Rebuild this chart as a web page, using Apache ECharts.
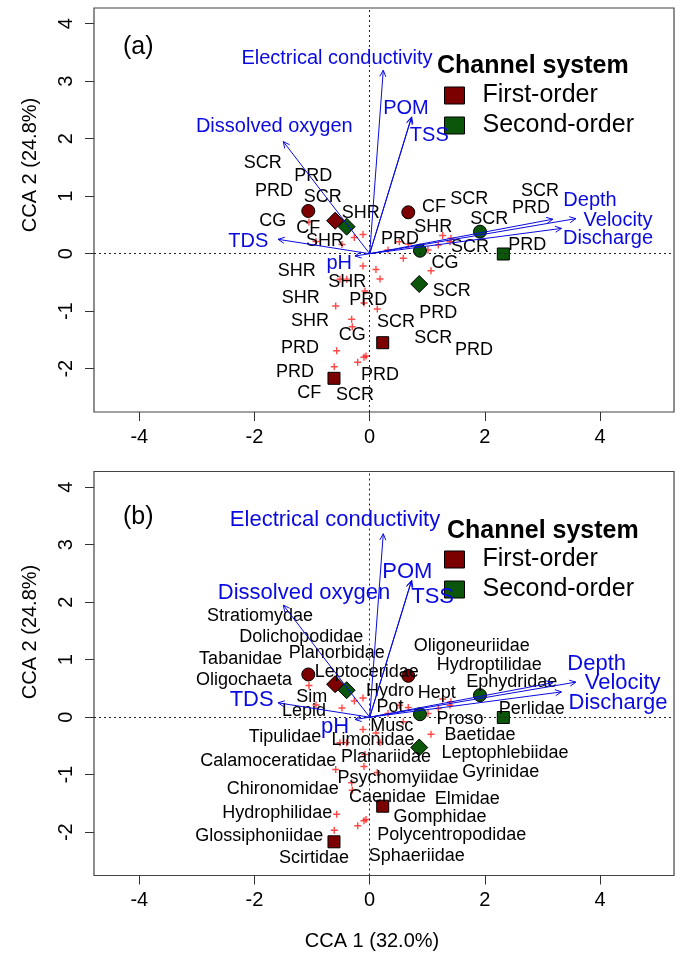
<!DOCTYPE html>
<html>
<head>
<meta charset="utf-8">
<script src="https://cdn.jsdelivr.net/npm/echarts@6/dist/echarts.min.js"></script>
<style>html,body{margin:0;padding:0;background:#fff}#c{width:680px;height:956px}</style>
</head>
<body>
<div id="c"></div>
<script>
// ---------- data ----------
const xTicks = [-4, -2, 0, 2, 4];
const yTicks = [-2, -1, 0, 1, 2, 3, 4];
const xTitle = 'CCA 1 (32.0%)';
const yTitle = 'CCA 2 (24.8%)';
const panelTags = ['(a)', '(b)'];
const legendTitle = 'Channel system';
const groupNames = ['First-order', 'Second-order'];

// environmental vectors (arrow tips) and label positions
const envNames = ['Electrical conductivity', 'POM', 'TSS', 'Dissolved oxygen', 'TDS', 'pH', 'Depth', 'Velocity', 'Discharge'];
const envTips = [[0.236, 3.19], [0.73, 2.38], [0.72, 2.36], [-1.50, 1.95], [-1.59, 0.25], [-0.255, -0.04], [3.18, 0.60], [3.58, 0.61], [3.33, 0.44]];
const envLabelA = [[-0.568, 3.398], [0.630, 2.529], [1.035, 2.064], [-1.656, 2.209], [-2.108, 0.209], [-0.528, -0.167], [3.825, 0.934], [4.311, 0.586], [4.137, 0.273]];
const envLabelB = [[-0.602, 3.430], [0.653, 2.530], [1.092, 2.096], [-1.141, 2.155], [-2.049, 0.299], [-0.601, -0.166], [3.941, 0.925], [4.392, 0.598], [4.311, 0.247]];

// site centroids
const redCircles = [[-1.066, 0.743], [0.67, 0.72]];
const redDiamonds = [[-0.60, 0.574]];
const redSquares = [[0.226, -1.548], [-0.62, -2.167]];
const greenCircles = [[0.873, 0.052], [1.915, 0.383]];
const greenDiamonds = [[-0.40, 0.47], [0.86, -0.527]];
const greenSquares = [[2.32, -0.005]];

// species scores (red crosses)
const speciesPts = [
  [-1.054, 0.551], [-0.932, 0.212], [-0.481, 0.160], [-0.267, 0.282], [-0.116, 0.334],
  [-0.116, -0.214], [0.109, -0.275], [0.179, -0.440], [0.318, 0.064], [0.583, -0.080],
  [1.064, -0.296], [1.267, 0.317], [1.411, 0.268], [1.191, 0.151], [1.394, 0.209],
  [-0.516, -0.445], [-0.082, -0.649], [0.132, -0.962], [-0.590, -0.910], [-0.313, -1.141],
  [-0.302, -1.270], [-0.573, -1.687], [-0.064, -1.779], [-0.099, -1.802], [-0.208, -1.889],
  [-0.615, -1.965], [0.514, 0.209], [0.670, 0.169], [1.012, 0.064], [-0.099, -0.857],
  [-0.399, -0.443]
];

// panel (a) feeding-group labels
const ffgNames = ['SCR', 'PRD', 'PRD', 'SCR', 'CG', 'CF', 'SHR', 'SHR', 'CF', 'SCR', 'SHR', 'PRD', 'SCR', 'SCR', 'PRD', 'SCR', 'PRD', 'CG', 'SCR', 'PRD', 'SCR', 'SCR', 'PRD', 'PRD', 'SCR', 'CF', 'PRD', 'PRD', 'CG', 'SHR', 'SHR', 'SHR', 'SHR', 'PRD'];
const ffgPos = [[-1.858, 1.572], [-0.979, 1.351], [-1.661, 1.090], [-0.816, 0.991], [-1.684, 0.569], [-1.066, 0.442], [-0.156, 0.713], [-0.776, 0.226], [1.116, 0.807], [1.729, 0.946], [1.104, 0.459], [0.526, 0.250], [2.076, 0.603], [2.957, 1.096], [2.800, 0.790], [1.741, 0.122], [2.736, 0.151], [1.307, -0.167], [1.424, -0.649], [1.191, -1.037], [0.457, -1.183], [1.104, -1.471], [1.811, -1.675], [0.179, -2.110], [-0.255, -2.457], [-1.049, -2.428], [-1.297, -2.052], [-1.210, -1.645], [-0.302, -1.414], [-1.036, -1.165], [-1.198, -0.776], [-1.267, -0.296], [-0.389, -0.487], [-0.024, -0.805]];

// panel (b) taxa labels
const taxaNames = ['Stratiomydae', 'Dolichopodidae', 'Tabanidae', 'Planorbidae', 'Oligochaeta', 'Leptoceridae', 'Sim', 'Lepid', 'Hydro', 'Pot', 'Musc', 'Hept', 'Oligoneuriidae', 'Hydroptilidae', 'Ephydridae', 'Perlidae', 'Proso', 'Baetidae', 'Leptophlebiidae', 'Gyrinidae', 'Elmidae', 'Gomphidae', 'Polycentropodidae', 'Sphaeriidae', 'Tipulidae', 'Calamoceratidae', 'Chironomidae', 'Hydrophilidae', 'Glossiphoniidae', 'Scirtidae', 'Limonidae', 'Planariidae', 'Psychomyiidae', 'Caenidae'];
const taxaPos = [[-1.905, 1.760], [-1.188, 1.390], [-2.240, 1.012], [-0.573, 1.122], [-2.182, 0.647], [-0.052, 0.791], [-1.007, 0.346], [-1.141, 0.113], [0.352, 0.461], [0.352, 0.183], [0.382, -0.153], [1.163, 0.426], [1.771, 1.238], [2.076, 0.908], [2.465, 0.617], [2.813, 0.137], [1.568, -0.037], [1.915, -0.310], [2.349, -0.628], [2.274, -0.948], [1.694, -1.428], [1.220, -1.741], [1.424, -2.049], [0.816, -2.414], [-1.470, -0.350], [-1.760, -0.762], [-1.510, -1.254], [-1.604, -1.661], [-1.917, -2.066], [-0.967, -2.454], [0.057, -0.397], [0.283, -0.692], [0.491, -1.057], [0.309, -1.383]];

// ---------- styling ----------
const FONT = "'Liberation Sans', Arial, Helvetica, sans-serif";
const RED = '#7d0000';
const GREEN = '#0b560b';
const BLUE = '#0a0ae0';
const CROSS = '#ff1a1a';
const XMIN = -4.786, XMAX = 5.283, YMIN = -2.753, YMAX = 4.273;
const plusPath = 'path://M4,0h2v4h4v2h-4v4h-2v-4h-4v-2h4z';

const chart = echarts.init(document.getElementById('c'), null, { renderer: 'canvas' });

function axesFor(i) {
  const x = {
    type: 'value', gridIndex: i, min: XMIN, max: XMAX,
    axisLine: { show: false, onZero: false },
    splitLine: { show: false },
    axisTick: { show: true, length: 9, customValues: xTicks, lineStyle: { color: '#333', width: 1 } },
    axisLabel: { show: true, customValues: xTicks, fontSize: 20, color: '#000', fontFamily: FONT, margin: 15 }
  };
  const y = {
    type: 'value', gridIndex: i, min: YMIN, max: YMAX,
    axisLine: { show: false, onZero: false },
    splitLine: { show: false },
    axisTick: { show: true, length: 9, customValues: yTicks, lineStyle: { color: '#333', width: 1 } },
    axisLabel: { show: true, customValues: yTicks, fontSize: 20, color: '#000', fontFamily: FONT, margin: 18, rotate: 90 }
  };
  return [x, y];
}
const ax0 = axesFor(0), ax1 = axesFor(1);

function siteSeries(i, name, data, symbol, size, color) {
  return {
    type: 'scatter', name: name, xAxisIndex: i, yAxisIndex: i, data: data,
    symbol: symbol, symbolSize: size, z: 4,
    itemStyle: { color: color, borderColor: '#000', borderWidth: 1, opacity: 1 },
    emphasis: { disabled: true }, silent: true
  };
}

function labelSeries(i, names, pos, size, color, z) {
  return {
    type: 'scatter', xAxisIndex: i, yAxisIndex: i,
    data: names.map((n, k) => ({ name: n, value: pos[k] })),
    symbol: 'circle', symbolSize: 0, z: z || 5,
    itemStyle: { color: 'rgba(0,0,0,0)' },
    label: {
      show: true, position: 'inside', formatter: '{b}', fontSize: size, color: color, fontFamily: FONT,
      textBorderWidth: 0, textBorderColor: 'transparent', textShadowBlur: 0, opacity: 1
    },
    emphasis: { disabled: true }, silent: true
  };
}

function arrowSeries(i) {
  return {
    type: 'custom', xAxisIndex: i, yAxisIndex: i, coordinateSystem: 'cartesian2d',
    data: envTips, z: 6, silent: true, clip: false,
    renderItem: function (params, api) {
      const p0 = api.coord([0, 0]);
      const p1 = api.coord([api.value(0), api.value(1)]);
      const ang = Math.atan2(p1[1] - p0[1], p1[0] - p0[0]);
      const L = 7, a = Math.PI / 7;
      const b1 = [p1[0] - L * Math.cos(ang - a), p1[1] - L * Math.sin(ang - a)];
      const b2 = [p1[0] - L * Math.cos(ang + a), p1[1] - L * Math.sin(ang + a)];
      return {
        type: 'group',
        children: [
          { type: 'line', shape: { x1: p0[0], y1: p0[1], x2: p1[0], y2: p1[1] }, style: { stroke: BLUE, lineWidth: 1 } },
          { type: 'polyline', shape: { points: [b1, p1, b2] }, style: { stroke: BLUE, lineWidth: 1, fill: null } }
        ]
      };
    }
  };
}

function crossSeries(i) {
  return {
    type: 'scatter', xAxisIndex: i, yAxisIndex: i, data: speciesPts,
    symbol: plusPath, symbolSize: 7, z: 3,
    itemStyle: { color: CROSS },
    markLine: {
      silent: true, symbol: ['none', 'none'], label: { show: false },
      lineStyle: { type: [2, 3], color: '#222', width: 1 },
      data: [{ xAxis: 0 }, { yAxis: 0 }],
      animation: false
    },
    emphasis: { disabled: true }, silent: true
  };
}

function panelSeries(i) {
  const s = [crossSeries(i)];
  s.push(siteSeries(i, groupNames[0], redCircles, 'circle', 13, RED));
  s.push(siteSeries(i, groupNames[0], redDiamonds, 'diamond', 17, RED));
  s.push(siteSeries(i, groupNames[0], redSquares, 'rect', 12, RED));
  s.push(siteSeries(i, groupNames[1], greenCircles, 'circle', 13, GREEN));
  s.push(siteSeries(i, groupNames[1], greenDiamonds, 'diamond', 17, GREEN));
  s.push(siteSeries(i, groupNames[1], greenSquares, 'rect', 12, GREEN));
  if (i === 0) s.push(labelSeries(0, ffgNames, ffgPos, 18, '#000'));
  else s.push(labelSeries(1, taxaNames, taxaPos, 18, '#000'));
  s.push(arrowSeries(i));
  s.push(labelSeries(i, envNames, i === 0 ? envLabelA : envLabelB, i === 0 ? 20 : 22, BLUE, 7));
  return s;
}

function legendFor(top) {
  return {
    orient: 'vertical', left: 444, top: top, padding: 0,
    itemWidth: 20, itemHeight: 17, itemGap: 5,
    selectedMode: false,
    itemStyle: { borderColor: '#000', borderWidth: 1 },
    textStyle: { fontSize: 25, color: '#000', fontFamily: FONT, lineHeight: 17, padding: [0, 0, 0, 13] },
    data: [{ name: groupNames[0], icon: 'rect' }, { name: groupNames[1], icon: 'rect' }]
  };
}

const option = {
  animation: false,
  backgroundColor: '#fff',
  grid: [
    { left: 94, top: 8, width: 580, height: 404, show: true, borderColor: '#444', borderWidth: 1.2, backgroundColor: 'transparent' },
    { left: 94, top: 471.5, width: 580, height: 404, show: true, borderColor: '#444', borderWidth: 1.2, backgroundColor: 'transparent' }
  ],
  xAxis: [ax0[0], ax1[0]],
  yAxis: [ax0[1], ax1[1]],
  title: [
    { text: panelTags[0], left: 123, top: 35, padding: 0, textStyle: { fontSize: 25, fontWeight: 'normal', color: '#000', fontFamily: FONT } },
    { text: panelTags[1], left: 123, top: 505, padding: 0, textStyle: { fontSize: 25, fontWeight: 'normal', color: '#000', fontFamily: FONT } },
    { text: legendTitle, left: 437, top: 54, padding: 0, textStyle: { fontSize: 25, fontWeight: 'bold', color: '#000', fontFamily: FONT } },
    { text: legendTitle, left: 447, top: 519, padding: 0, textStyle: { fontSize: 25, fontWeight: 'bold', color: '#000', fontFamily: FONT } }
  ],
  legend: [legendFor(83), legendFor(547)],
  graphic: [
    { type: 'text', x: 30, y: 165, rotation: Math.PI / 2, style: { text: yTitle, fontSize: 20, fontFamily: FONT, fill: '#000', align: 'center', verticalAlign: 'middle' } },
    { type: 'text', x: 30, y: 632, rotation: Math.PI / 2, style: { text: yTitle, fontSize: 20, fontFamily: FONT, fill: '#000', align: 'center', verticalAlign: 'middle' } },
    { type: 'text', x: 372, y: 941, style: { text: xTitle, fontSize: 20, fontFamily: FONT, fill: '#000', align: 'center', verticalAlign: 'middle' } }
  ],
  series: panelSeries(0).concat(panelSeries(1))
};
chart.setOption(option);
</script>
</body>
</html>
